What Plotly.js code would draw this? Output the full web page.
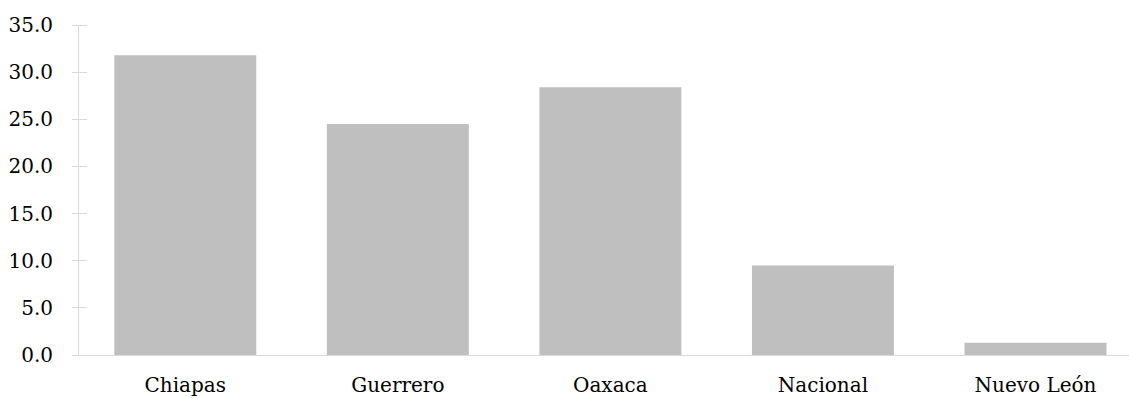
<!DOCTYPE html>
<html>
<head>
<meta charset="utf-8">
<script src="https://cdn.plot.ly/plotly-3.0.1.min.js"></script>
<style>html,body{margin:0;padding:0;background:#fff;}#chart{width:1129px;height:398px;}</style>
</head>
<body>
<div id="chart"></div>
<script>
const categories = ["Chiapas", "Guerrero", "Oaxaca", "Nacional", "Nuevo León"];
const values = [31.8, 24.5, 28.4, 9.5, 1.3];
const yTicks = [0, 5, 10, 15, 20, 25, 30, 35];
const yTickLabels = ["0.0", "5.0", "10.0", "15.0", "20.0", "25.0", "30.0", "35.0"];

function mkFont() { return {family: "DejaVu Serif", size: 20, color: "#000000"}; }

const data = [{
  type: "bar",
  x: categories,
  y: values,
  marker: {color: "#bfbfbf", line: {width: 0}},
  hoverinfo: "x+y"
}, {
  type: "scatter", x: [categories[0]], y: [0], yaxis: "y2", mode: "markers",
  marker: {opacity: 0}, hoverinfo: "skip", showlegend: false
}];

const layout = {
  width: 1129,
  height: 398,
  margin: {l: 79, r: 0, t: 25, b: 43, pad: 0},
  paper_bgcolor: "#fff",
  plot_bgcolor: "#fff",
  showlegend: false,
  bargap: 0.332,
  font: mkFont(),
  xaxis: {
    type: "category",
    range: [-0.5, 4.44],
    showgrid: false,
    zeroline: false,
    showline: true,
    linecolor: "#d9d9d9",
    linewidth: 1,
    ticks: "",
    tickfont: mkFont(),
    ticklabelstandoff: 12,
    fixedrange: true
  },
  yaxis: {
    range: [0, 35],
    tickmode: "array",
    tickvals: yTicks,
    ticktext: yTickLabels,
    showgrid: false,
    zeroline: false,
    showline: true,
    linecolor: "#d9d9d9",
    linewidth: 1,
    ticks: "",
    tickfont: mkFont(),
    ticklabelstandoff: 21,
    fixedrange: true
  },
  yaxis2: {
    overlaying: "y",
    side: "left",
    anchor: "free",
    position: 0.0076,
    range: [0, 35],
    tickmode: "array",
    tickvals: yTicks,
    ticktext: yTickLabels,
    showticklabels: false,
    showgrid: false,
    zeroline: false,
    showline: false,
    ticks: "outside",
    ticklen: 15,
    tickcolor: "#d9d9d9",
    tickwidth: 1,
    fixedrange: true
  }
};

Plotly.newPlot("chart", data, layout, {displayModeBar: false, staticPlot: true});
</script>
</body>
</html>
